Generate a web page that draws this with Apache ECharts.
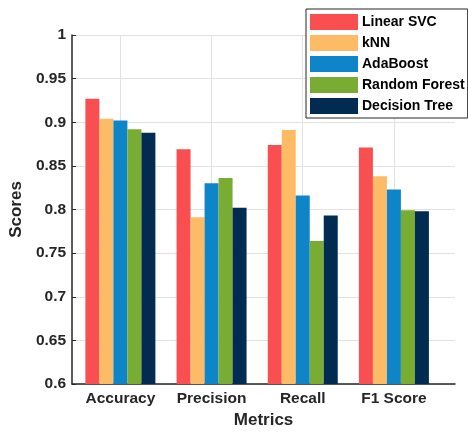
<!DOCTYPE html>
<html>
<head>
<meta charset="utf-8">
<script src="https://cdn.jsdelivr.net/npm/echarts@6/dist/echarts.min.js"></script>
<style>
html,body{margin:0;padding:0;background:#fff;}
#chart{width:468px;height:434px;}
</style>
</head>
<body>
<div id="chart"></div>
<script>
const categories = ['Accuracy', 'Precision', 'Recall', 'F1 Score'];
const seriesNames = ['Linear SVC', 'kNN', 'AdaBoost', 'Random Forest', 'Decision Tree'];
const linearSVC = [0.927, 0.869, 0.874, 0.871];
const kNN = [0.904, 0.791, 0.891, 0.838];
const adaBoost = [0.902, 0.830, 0.816, 0.823];
const randomForest = [0.892, 0.836, 0.764, 0.799];
const decisionTree = [0.888, 0.802, 0.793, 0.798];
const yTicks = [0.6, 0.65, 0.7, 0.75, 0.8, 0.85, 0.9, 0.95, 1];
const colors = ['#FA4F50', '#FEBB66', '#0E85C8', '#79AC33', '#022B51'];

const allValues = [linearSVC, kNN, adaBoost, randomForest, decisionTree];
const catPos = categories.map((c, i) => i + 1);
const font = 'Liberation Sans, Arial, Helvetica, sans-serif';
const textColor = '#262626';

const chart = echarts.init(document.getElementById('chart'), null, {renderer: 'canvas'});
chart.setOption({
  animation: false,
  backgroundColor: '#fff',
  color: colors,
  textStyle: {fontFamily: font},
  grid: {left: 67, right: 13, top: 35, bottom: 48, containLabel: false},
  legend: {
    orient: 'vertical',
    left: 306,
    top: 9,
    data: seriesNames,
    icon: 'rect',
    itemWidth: 48,
    itemHeight: 16,
    itemGap: 5,
    padding: [5, 3, 4, 4],
    backgroundColor: '#fff',
    borderColor: '#262626',
    borderWidth: 1,
    textStyle: {fontFamily: font, fontWeight: 'bold', fontSize: 14, color: '#000', padding: [0, 0, 0, -1]}
  },
  xAxis: {
    type: 'value',
    min: 0.47,
    max: 4.67,
    name: 'Metrics',
    nameLocation: 'middle',
    nameGap: 28,
    nameTextStyle: {fontFamily: font, fontWeight: 'bold', fontSize: 17, color: textColor},
    axisLine: {show: true, lineStyle: {color: textColor, width: 1.5}},
    axisTick: {show: true, inside: true, length: 4, customValues: catPos, lineStyle: {color: textColor}},
    axisLabel: {
      customValues: catPos,
      margin: 7,
      fontFamily: font, fontWeight: 'bold', fontSize: 15.5, color: textColor,
      formatter: v => categories[Math.round(v) - 1] || ''
    },
    splitLine: {show: true, customValues: catPos, lineStyle: {color: '#e2e2e2', width: 1}}
  },
  yAxis: {
    type: 'value',
    min: yTicks[0],
    max: yTicks[yTicks.length - 1],
    interval: 0.05,
    name: 'Scores',
    nameLocation: 'middle',
    nameGap: 45,
    nameTextStyle: {fontFamily: font, fontWeight: 'bold', fontSize: 17, color: textColor},
    axisLine: {show: true, lineStyle: {color: textColor, width: 1.5}},
    axisTick: {show: true, inside: true, length: 4, lineStyle: {color: textColor}},
    axisLabel: {margin: 6, fontFamily: font, fontWeight: 'bold', fontSize: 15.5, color: textColor},
    splitLine: {show: true, lineStyle: {color: '#e2e2e2', width: 1}}
  },
  series: seriesNames.map((name, si) => ({
    name: name,
    type: 'bar',
    barWidth: 14,
    barGap: '0%',
    itemStyle: {color: colors[si]},
    data: allValues[si].map((v, i) => [catPos[i], v])
  }))
});
</script>
</body>
</html>
